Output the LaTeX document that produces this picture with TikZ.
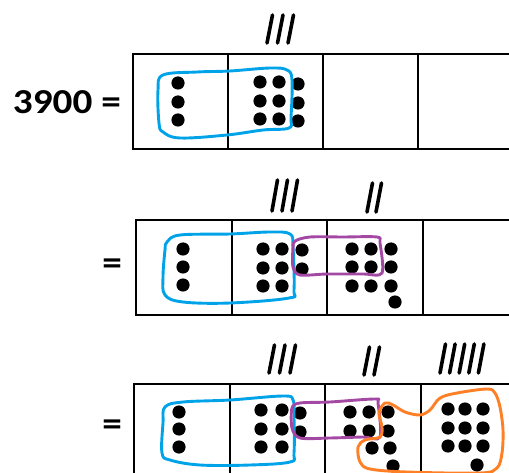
\documentclass[tikz,border=0pt]{standalone}
\usepackage{fontspec}
\setmainfont{Carlito}
\definecolor{loopblue}{RGB}{0,162,232}
\definecolor{looppurple}{RGB}{163,73,164}
\definecolor{looporange}{RGB}{255,127,39}
\tikzset{
  grid/.style={line width=1.8pt, draw=black},
  dot/.style={fill=black},
  tallystroke/.style={line width=3.6pt, line cap=round},
  loopline/.style={line width=2.9pt, line join=round},
  lbl/.style={font=\bfseries\fontsize{35}{40}\selectfont, inner sep=0pt,
              anchor=east, xscale=1.12}
}
% one tally group: #1 = x of first stroke foot, #2 = foot y, #3 = head y, #4 = count, #5 = spacing
\newcommand{\tallygroup}[5]{%
  \foreach \k in {1,...,#4}{%
    \draw[tallystroke] ({#1+(\k-1)*#5},#2) -- ({#1+(\k-1)*#5+5.5},#3);
  }}
\newcommand{\counters}[1]{\foreach \p in {#1}{\fill[dot] \p circle (6.6);}}
\begin{document}
\begin{tikzpicture}[x=1pt,y=-1pt]
\useasboundingbox (0,0) rectangle (509,473);
\clip (0,0) rectangle (509,473);

% ---------- row 1 ----------
\node[lbl] (n3900) at (121,102) {3900 =};
\draw[grid] (540,54) -- (133,54) -- (133,149) -- (540,149);
\foreach \x in {228,323,418} \draw[grid] (\x,54) -- (\x,149);
\tallygroup{267}{43}{15}{3}{10.5}
\counters{(178,83),(178,102),(178,120),
      (260,82),(279,82),(298,84),
      (260,101),(279,101),(298,103),
      (260,119),(279,119),(298,121)}
\draw[loopblue,loopline] plot[smooth cycle,tension=0.6] coordinates
  {(163,75) (197,72) (230,71) (270,68) (287,70) (292,80) (291,117) (289,128)
   (263,130) (227,135) (180,138) (163,132) (159,123) (158,90)};

% ---------- row 2 ----------
\node[lbl] (eqtwo) at (122,267) {=};
\draw[grid] (540,220) -- (136,220) -- (136,315) -- (540,315);
\foreach \x in {232,327,423} \draw[grid] (\x,220) -- (\x,315);
\tallygroup{272}{211}{180}{3}{10}
\tallygroup{367}{212}{183}{2}{9}
\counters{(183,249),(183,267),(183,285),
      (263,249),(282,249),(302,250),
      (263,268),(282,268),(302,269),
      (263,286),(282,286),
      (352,249),(371,249),(391,249),
      (352,267),(371,267),(391,267),
      (352,286),(371,286),(391,286),
      (395,302)}
\draw[loopblue,loopline] plot[smooth cycle,tension=0.6] coordinates
  {(167,242) (180,235) (230,234) (270,232) (290,234) (293,247) (294,290) (289,298)
   (230,303) (183,302) (165,295) (163,277) (165,250)};
\draw[looppurple,loopline] plot[smooth cycle,tension=0.5] coordinates
  {(295,241) (310,237) (343,237) (377,237) (380,243) (382,273) (363,274)
   (327,274) (300,275) (293,267) (293,248)};

% ---------- row 3 ----------
\node[lbl] (eqthree) at (122,428) {=};
\draw[grid] (540,384) -- (134,384) -- (134,490);
\foreach \x in {230,325,421} \draw[grid] (\x,384) -- (\x,490);
\tallygroup{269}{373}{345}{3}{10.5}
\tallygroup{364}{375}{347}{2}{10}
\tallygroup{440}{373}{344}{5}{9.6}
\counters{(179,412),(179,429),(179,447),
      (261,410),(282,410),(300,413),
      (261,429),(282,429),(300,432),
      (261,447),(282,447),
      (350,412),(369,412),(388,412),
      (350,431),(369,431),(388,431),
      (372,448),(390,448),
      (393,466),
      (448,409),(465,409),(483,409),
      (448,428),(465,428),(483,428),
      (448,446),(465,446),(483,446),
      (477,465)}
\draw[loopblue,loopline] plot[smooth cycle,tension=0.6] coordinates
  {(165,407) (183,402) (230,400) (283,396) (293,400) (294,417) (294,453) (290,462)
   (250,465) (200,465) (170,460) (162,453) (163,423)};
\draw[looppurple,loopline] plot[smooth cycle,tension=0.5] coordinates
  {(292,408) (300,403) (330,402) (375,399) (378,403) (380,437) (363,437)
   (330,438) (300,438) (292,428)};
\draw[looporange,loopline] plot[smooth cycle,tension=0.55] coordinates
  {(385,403) (393,405) (405,412) (420,415) (430,410) (440,398) (457,393)
   (487,389) (495,393) (500,407) (503,430) (502,453) (497,468) (480,473)
   (407,472) (370,469) (360,462) (358,447) (365,440) (380,437) (382,427)
   (379,413)};
\end{tikzpicture}
\end{document}
